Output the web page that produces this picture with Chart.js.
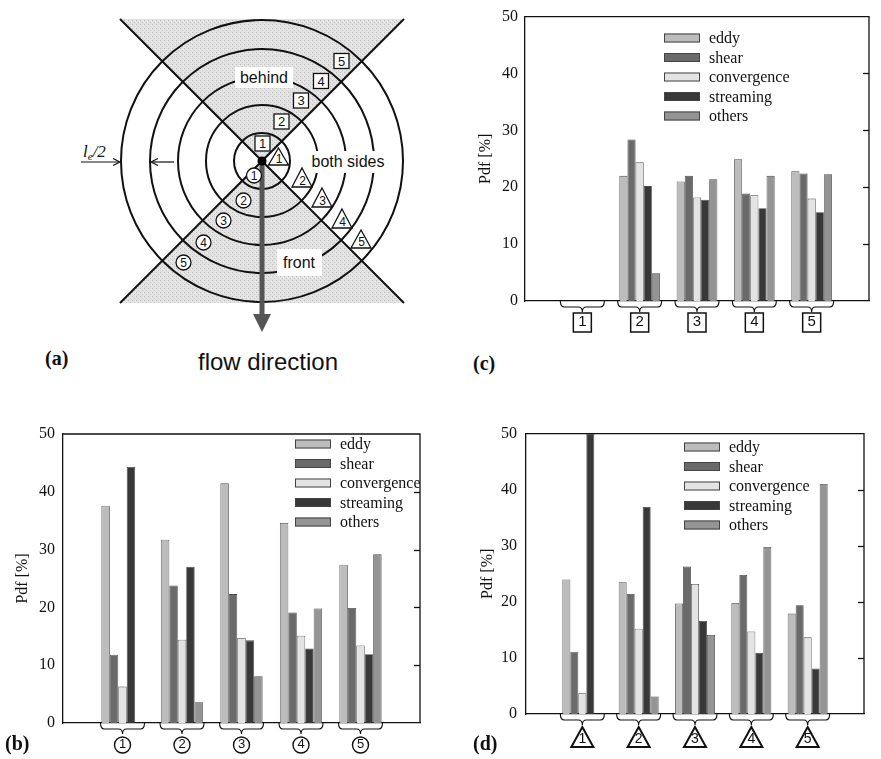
<!DOCTYPE html>
<html lang="en">
<head>
<meta charset="UTF-8">
<title>Pdf of event types by position</title>
<script src="https://cdn.jsdelivr.net/npm/chart.js"></script>
<style>
  body { margin: 0; background: #fff; }
  #page { position: relative; width: 881px; height: 759px; overflow: hidden; background: #fff; }
  canvas, svg { position: absolute; }
  .tag { position: absolute; font: bold 20px "Liberation Serif", "Times New Roman", serif; line-height: 20px; color: #111; }
</style>
</head>
<body>
<div id="page">

  <!-- (a) schematic -->
  <svg width="440" height="380" style="left:0;top:0" font-family="'Liberation Sans', Arial, sans-serif">
    <defs>
      <pattern id="stipple" width="4" height="4" patternUnits="userSpaceOnUse">
        <rect width="4" height="4" fill="#e2e2e2"/>
        <rect x="0" y="0" width="1" height="1" fill="#bcbcbc"/>
        <rect x="2" y="2" width="1" height="1" fill="#c8c8c8"/>
        <rect x="3" y="1" width="1" height="1" fill="#f0f0f0"/>
      </pattern>
    </defs>
    <polygon points="120,19 404,19 262,161" fill="url(#stipple)"/>
    <polygon points="120,303 404,303 262,161" fill="url(#stipple)"/>
    <g fill="none" stroke="#111" stroke-width="2">
      <circle cx="262" cy="161" r="28"/>
      <circle cx="262" cy="161" r="56"/>
      <circle cx="262" cy="161" r="84"/>
      <circle cx="262" cy="161" r="112"/>
      <circle cx="262" cy="161" r="141"/>
      <line x1="120" y1="19" x2="404" y2="303"/>
      <line x1="404" y1="19" x2="120" y2="303"/>
    </g>
    <g fill="#fff">
      <rect x="235" y="67" width="58" height="21"/>
      <rect x="306" y="151" width="83" height="22"/>
      <rect x="277" y="249" width="45" height="27"/>
    </g>
    <g font-size="16" text-anchor="middle" fill="#111">
      <text x="264" y="83">behind</text>
      <text x="348" y="167">both sides</text>
      <text x="299" y="268">front</text>
    </g>

    <!-- flow arrow -->
    <rect x="259.5" y="161" width="5" height="155" fill="#555"/>
    <polygon points="253,314 271,314 262,332" fill="#555"/>
    <circle cx="262" cy="161" r="4.5" fill="#000"/>

    <!-- square markers -->
    <g stroke="#111" stroke-width="1.3" fill="#fff">
      <rect x="255" y="136" width="15" height="15"/>
      <rect x="274" y="114" width="15" height="15"/>
      <rect x="293.5" y="93" width="15" height="15"/>
      <rect x="313.5" y="73.5" width="15" height="15"/>
      <rect x="334" y="53.5" width="15" height="15"/>
    </g>
    <g font-size="13" text-anchor="middle" fill="#111">
      <text x="262.5" y="148">1</text>
      <text x="281.5" y="126">2</text>
      <text x="301" y="105">3</text>
      <text x="321" y="85.5">4</text>
      <text x="341.5" y="65.5">5</text>
    </g>

    <!-- triangle markers -->
    <g stroke="#111" stroke-width="1.3" fill="#fff">
      <polygon points="278.5,148 288.5,165 268.5,165"/>
      <polygon points="302,168 312,187 292,187"/>
      <polygon points="322,188 332,207 312,207"/>
      <polygon points="342,209 352,228 332,228"/>
      <polygon points="361,230 371,248 351,248"/>
    </g>
    <g font-size="12" text-anchor="middle" fill="#111">
      <text x="279" y="163">1</text>
      <text x="302.5" y="185">2</text>
      <text x="322.5" y="205">3</text>
      <text x="342.5" y="226">4</text>
      <text x="361.5" y="246">5</text>
    </g>

    <!-- circle markers -->
    <g stroke="#111" stroke-width="1.3" fill="#fff">
      <circle cx="254" cy="175.5" r="7.5"/>
      <circle cx="243.5" cy="200.5" r="7.5"/>
      <circle cx="223.5" cy="220.5" r="7.5"/>
      <circle cx="203.5" cy="242.5" r="7.5"/>
      <circle cx="183.5" cy="262.5" r="7.5"/>
    </g>
    <g font-size="12" text-anchor="middle" fill="#111">
      <text x="254" y="180">1</text>
      <text x="243.5" y="205">2</text>
      <text x="223.5" y="225">3</text>
      <text x="203.5" y="247">4</text>
      <text x="183.5" y="267">5</text>
    </g>

    <!-- l_e/2 dimension -->
    <text x="83" y="157" font-family="'Liberation Serif', serif" font-size="17" font-style="italic" fill="#111">l<tspan font-size="11" dy="3">e</tspan><tspan dy="-3">/2</tspan></text>
    <g stroke="#111" stroke-width="1.2" fill="none">
      <line x1="81" y1="162" x2="119" y2="162"/>
      <polyline points="113,158.5 120,162 113,165.5"/>
      <line x1="152" y1="162" x2="174" y2="162"/>
      <polyline points="158,158.5 151,162 158,165.5"/>
    </g>

    <text x="268" y="370" font-size="24" text-anchor="middle" fill="#111">flow direction</text>
  </svg>

  <canvas id="chartB" width="440" height="344" style="left:0;top:415px"></canvas>
  <canvas id="chartC" width="441" height="345" style="left:440px;top:0"></canvas>
  <canvas id="chartD" width="441" height="344" style="left:440px;top:415px"></canvas>

  <div class="tag" style="left:45px;top:348px">(a)</div>
  <div class="tag" style="left:473px;top:353px">(c)</div>
  <div class="tag" style="left:5px;top:733px">(b)</div>
  <div class="tag" style="left:473px;top:733px">(d)</div>
</div>

<script>
    // positions 1..5, padded with an empty slot on each side
    const categories = ['', '1', '2', '3', '4', '5', ''];
    const seriesNames = ['eddy', 'shear', 'convergence', 'streaming', 'others'];
    const yTicks = [0, 10, 20, 30, 40, 50];

    // (b) circled positions
    const circleEddy = [37.6, 31.7, 41.5, 34.6, 27.4];
    const circleShear = [11.8, 23.8, 22.3, 19.1, 19.9];
    const circleConvergence = [6.3, 14.4, 14.7, 15.1, 13.4];
    const circleStreaming = [44.3, 27.0, 14.3, 12.9, 11.9];
    const circleOthers = [0, 3.6, 8.1, 19.8, 29.2];

    // (c) boxed positions
    const boxEddy = [0, 22.0, 21.0, 24.9, 22.8];
    const boxShear = [0, 28.4, 22.0, 18.9, 22.4];
    const boxConvergence = [0, 24.4, 18.2, 18.6, 18.0];
    const boxStreaming = [0, 20.2, 17.8, 16.3, 15.6];
    const boxOthers = [0, 4.9, 21.4, 22.0, 22.3];

    // (d) triangle positions
    const triangleEddy = [24.0, 23.5, 19.7, 19.8, 17.9];
    const triangleShear = [11.1, 21.4, 26.3, 24.8, 19.4];
    const triangleConvergence = [3.7, 15.2, 23.2, 14.7, 13.7];
    const triangleStreaming = [50, 36.9, 16.6, 10.9, 8.1];
    const triangleOthers = [0, 3.1, 14.1, 29.8, 41.0];

    // grey levels of the printed halftones
    const barColors = ['#bcbcbc', '#6a6a6a', '#e3e3e3', '#383838', '#949494'];

    const serif = "'Liberation Serif', 'Times New Roman', serif";
    const sans = "'Liberation Sans', Arial, sans-serif";

    function drawBrace(ctx, cx, top, hw) {
        const yb = top + 6, tip = top + 11;
        ctx.beginPath();
        ctx.moveTo(cx - hw, top);
        ctx.quadraticCurveTo(cx - hw, yb, cx - hw + 4, yb);
        ctx.lineTo(cx - 4, yb);
        ctx.quadraticCurveTo(cx, yb, cx, tip);
        ctx.quadraticCurveTo(cx, yb, cx + 4, yb);
        ctx.lineTo(cx + hw - 4, yb);
        ctx.quadraticCurveTo(cx + hw, yb, cx + hw, top);
        ctx.stroke();
    }

    function drawMarker(ctx, kind, cx, top) {
        ctx.beginPath();
        if (kind === 'circle') {
            ctx.arc(cx, top + 22, 8, 0, Math.PI * 2);
            ctx.lineWidth = 1.4;
        } else if (kind === 'box') {
            ctx.rect(cx - 9, top + 12, 18, 19);
            ctx.lineWidth = 1.5;
        } else {
            ctx.moveTo(cx, top + 13);
            ctx.lineTo(cx + 11, top + 33);
            ctx.lineTo(cx - 11, top + 33);
            ctx.closePath();
            ctx.lineWidth = 2;
        }
        ctx.stroke();
    }

    // frame, inward right ticks, braces + position markers, legend
    const panelDecor = {
        id: 'panelDecor',
        afterDraw(chart, args, opts) {
            const { ctx, chartArea: a, scales: { x, y } } = chart;
            ctx.save();
            ctx.strokeStyle = '#111';
            ctx.lineWidth = 1.3;
            ctx.beginPath();
            ctx.moveTo(a.left, a.top);
            ctx.lineTo(a.right, a.top);
            ctx.lineTo(a.right, a.bottom);
            ctx.stroke();

            yTicks.forEach(v => {
                if (v === yTicks[0] || v === yTicks[yTicks.length - 1]) return;
                const py = Math.round(y.getPixelForValue(v)) + 0.5;
                ctx.beginPath();
                ctx.moveTo(a.right - 6, py);
                ctx.lineTo(a.right, py);
                ctx.stroke();
            });

            categories.forEach((c, i) => {
                if (!c) return;
                const cx = x.getPixelForValue(i);
                ctx.lineWidth = 1.1;
                drawBrace(ctx, cx, a.bottom, 22);
                drawMarker(ctx, opts.marker, cx, a.bottom);
            });

            const L = opts.legend;
            ctx.font = '16px ' + serif;
            ctx.textBaseline = 'middle';
            chart.data.datasets.forEach((ds, k) => {
                const yy = L.y + k * L.gap;
                ctx.fillStyle = ds.backgroundColor;
                ctx.fillRect(L.x, yy - 4.5, 36, 9);
                ctx.strokeStyle = '#444';
                ctx.lineWidth = 1;
                ctx.strokeRect(L.x + 0.5, yy - 4, 35, 8);
                ctx.fillStyle = '#111';
                ctx.fillText(ds.label, L.x + 45, yy + 1);
            });
            ctx.restore();
        }
    };

    function buildPanel(canvasId, series, opt) {
        const ctx = document.getElementById(canvasId).getContext('2d');
        return new Chart(ctx, {
            type: 'bar',
            data: {
                labels: categories,
                datasets: series.map((vals, k) => ({
                    label: seriesNames[k],
                    data: [null, ...vals, null],
                    backgroundColor: barColors[k],
                    borderColor: '#4a4a4a',
                    borderWidth: 0.8,
                    barPercentage: 1,
                    categoryPercentage: 0.71
                }))
            },
            options: {
                responsive: false,
                animation: false,
                layout: { padding: { top: opt.top, right: opt.right, left: 0, bottom: 0 } },
                plugins: {
                    legend: { display: false },
                    tooltip: { enabled: false },
                    panelDecor: { marker: opt.marker, legend: opt.legend }
                },
                scales: {
                    x: {
                        offset: false,
                        grid: { display: false, drawTicks: false },
                        border: { display: true, color: '#111', width: 1.3 },
                        ticks: {
                            autoSkip: false, maxRotation: 0, padding: opt.tickPad, color: '#111',
                            font: { family: sans, size: opt.tickSize }
                        },
                        afterFit: s => { s.height = opt.xHeight; }
                    },
                    y: {
                        min: 0,
                        max: 50,
                        afterBuildTicks: s => { s.ticks = yTicks.map(v => ({ value: v })); },
                        grid: { display: false, drawTicks: false },
                        border: { display: true, color: '#111', width: 1.3 },
                        ticks: { padding: opt.yPad, color: '#111', font: { family: serif, size: 16 } },
                        title: {
                            display: true, text: 'Pdf [%]', color: '#111',
                            font: { family: serif, size: 16 },
                            padding: { top: opt.titlePad, bottom: 0 }
                        },
                        afterFit: s => { s.width = opt.yWidth; }
                    }
                }
            },
            plugins: [panelDecor]
        });
    }

    buildPanel('chartB',
        [circleEddy, circleShear, circleConvergence, circleStreaming, circleOthers],
        { top: 19, right: 20, yWidth: 63, xHeight: 36, yPad: 8, titlePad: 13, tickPad: 14, tickSize: 13,
          marker: 'circle', legend: { x: 295, y: 29, gap: 19.5 } });

    buildPanel('chartC',
        [boxEddy, boxShear, boxConvergence, boxStreaming, boxOthers],
        { top: 10, right: 1, yWidth: 85, xHeight: 44, yPad: 7, titlePad: 36, tickPad: 12, tickSize: 15,
          marker: 'box', legend: { x: 224, y: 38, gap: 19.5 } });

    buildPanel('chartD',
        [triangleEddy, triangleShear, triangleConvergence, triangleStreaming, triangleOthers],
        { top: 13, right: 1, yWidth: 86, xHeight: 45, yPad: 9, titlePad: 38, tickPad: 17, tickSize: 14,
          marker: 'triangle', legend: { x: 244, y: 32, gap: 19.5 } });
</script>
</body>
</html>
